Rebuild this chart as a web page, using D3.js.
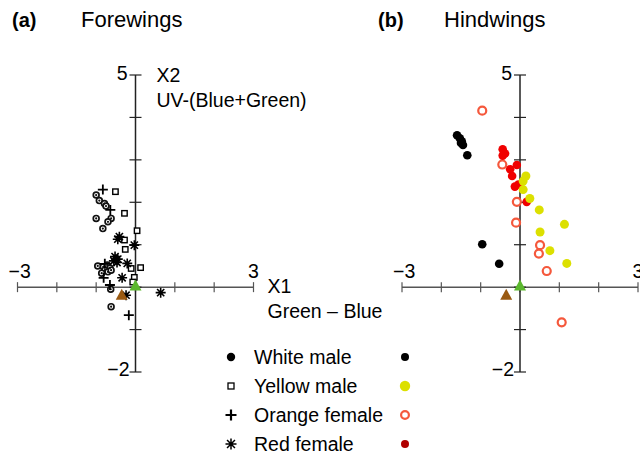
<!DOCTYPE html>
<html>
<head>
<meta charset="utf-8">
<script src="https://cdn.jsdelivr.net/npm/d3@7"></script>
<style>
  body { margin: 0; background: #fff; }
  text { font-family: "Liberation Sans", Arial, sans-serif; }
</style>
</head>
<body>
<svg width="640" height="456"></svg>
<script>
const width = 640;
const height = 456;

const xTicks = [-3, -2, -1, 0, 1, 2, 3];
const yTicks = [-2, -1, 0, 1, 2, 3, 4, 5];

// (a) forewings, [X1, X2]
const foreWhite = [
  [-1.00, 2.17], [-0.92, 2.04], [-0.79, 1.97], [-0.75, 1.91], [-1.00, 1.62],
  [-0.62, 1.62], [-0.70, 1.54], [-0.83, 1.38], [-0.96, 0.50], [-0.82, 0.48],
  [-0.72, 0.52], [-0.65, 0.45], [-0.78, 0.40], [-0.70, 0.36], [-0.86, 0.33],
  [-0.62, 0.40], [-0.63, -0.05], [-0.62, -0.46]
];
const foreYellow = [
  [-0.51, 2.25], [-0.28, 1.74], [0.04, 1.33], [-0.28, 1.11], [-0.26, 0.89],
  [-0.11, 0.44], [0.13, 0.46], [-0.03, 0.23], [-0.07, 0.12]
];
const foreOrange = [
  [-0.83, 2.30], [-0.64, 1.82], [-0.78, 0.55], [-0.81, 0.22], [-0.65, 0.05],
  [-0.17, -0.66]
];
const foreRed = [
  [-0.41, 1.19], [-0.45, 1.13], [-0.03, 0.99], [-0.52, 0.72], [-0.45, 0.66],
  [-0.55, 0.62], [-0.47, 0.58], [-0.21, 0.56], [-0.34, 0.22], [-0.24, -0.19],
  [0.64, -0.13]
];

// (b) hindwings, [X1, X2]
const hindWhite = [
  [-1.60, 3.58], [-1.53, 3.51], [-1.48, 3.44], [-1.45, 3.35], [-1.50, 3.40],
  [-1.34, 3.11], [-0.96, 1.01], [-0.53, 0.55]
];
const hindYellow = [
  [0.15, 2.62], [0.08, 2.50], [0.08, 2.30], [0.25, 2.09], [0.49, 1.82],
  [1.13, 1.48], [0.51, 1.30], [0.76, 0.86], [1.19, 0.56]
];
const hindOrange = [
  [-0.96, 4.16], [-0.45, 2.89], [-0.08, 2.01], [-0.10, 1.52], [0.51, 0.99],
  [0.48, 0.79], [0.68, 0.38], [1.06, -0.83]
];
const hindRed = [
  [-0.44, 3.25], [-0.38, 3.15], [-0.44, 3.10], [-0.25, 2.78], [-0.08, 2.88],
  [-0.20, 2.62], [-0.13, 2.37], [-0.04, 2.42], [0.17, 2.01]
];

// reference points (triangles)
const greenRef = [0.0, 0.05];
const brownRef = [-0.35, -0.17];

const legendLabels = ["White male", "Yellow male", "Orange female", "Red female"];

const svg = d3.select("svg");

const y = d3.scaleLinear().domain([-2, 5]).range([372, 75]);

function starPath(r) {
  const d = r * 0.72;
  return `M${-r},0H${r}M0,${-r}V${r}M${-d},${-d}L${d},${d}M${-d},${d}L${d},${-d}`;
}
const plusPath = r => `M${-r},0H${r}M0,${-r}V${r}`;
const triPath = (w, h) => `M0,${-h / 2}L${w / 2},${h / 2}L${-w / 2},${h / 2}Z`;

function drawAxes(g, x, showTitles) {
  const x0 = x(0), y0 = y(0);
  // x axis
  g.append("line")
    .attr("x1", x(-3)).attr("x2", x(3))
    .attr("y1", y0).attr("y2", y0)
    .attr("stroke", "#555").attr("stroke-width", 1.5);
  g.selectAll(".xt").data(xTicks).join("line")
    .attr("x1", d => x(d)).attr("x2", d => x(d))
    .attr("y1", y0 - 5).attr("y2", y0 + 5)
    .attr("stroke", "#555").attr("stroke-width", 1.2);
  // y axis
  g.append("line")
    .attr("x1", x0).attr("x2", x0)
    .attr("y1", y(5)).attr("y2", y(-2))
    .attr("stroke", "#222").attr("stroke-width", 1.5);
  g.selectAll(".yt").data(yTicks).join("line")
    .attr("x1", x0 - 6).attr("x2", x0 + 6)
    .attr("y1", d => y(d)).attr("y2", d => y(d))
    .attr("stroke", "#222").attr("stroke-width", 1.2);

  const fs = "19.5px";
  g.append("text").attr("x", x(-3) - 9).attr("y", y0 - 9).attr("font-size", fs).text("\u22123");
  g.append("text").attr("x", x(3)).attr("y", y0 - 9).attr("text-anchor", "middle").attr("font-size", fs).text("3");
  g.append("text").attr("x", x0 - 8).attr("y", y(5) + 5).attr("text-anchor", "end").attr("font-size", fs).text("5");
  g.append("text").attr("x", x0 - 6).attr("y", y(-2) + 4).attr("text-anchor", "end").attr("font-size", fs).text("\u22122");
  if (showTitles) {
    g.append("text").attr("x", x0 + 21).attr("y", y(5) + 7).attr("font-size", fs).text("X2");
    g.append("text").attr("x", x0 + 21).attr("y", y(5) + 32).attr("font-size", fs).text("UV-(Blue+Green)");
    g.append("text").attr("x", x(3) + 14).attr("y", y0 + 6).attr("font-size", fs).text("X1");
    g.append("text").attr("x", x(3) + 14).attr("y", y0 + 31).attr("font-size", fs).text("Green \u2013 Blue");
  }
}

function drawRefs(g, x) {
  g.append("path").attr("d", triPath(12, 11))
    .attr("transform", `translate(${x(brownRef[0])},${y(brownRef[1])})`)
    .attr("fill", "#9a5a12");
  g.append("path").attr("d", triPath(12, 11))
    .attr("transform", `translate(${x(greenRef[0])},${y(greenRef[1])})`)
    .attr("fill", "#5cb82e");
}

// ---- panel (a)
const xa = d3.scaleLinear().domain([-3, 3]).range([17.5, 253.5]);
const ga = svg.append("g");
drawAxes(ga, xa, true);

const pa = ga.append("g");
pa.selectAll(".wm").data(foreWhite).join("circle")
  .attr("cx", d => xa(d[0])).attr("cy", d => y(d[1])).attr("r", 2.9)
  .attr("fill", "#fff").attr("stroke", "#111").attr("stroke-width", 1.7);
pa.selectAll(".wmc").data(foreWhite).join("circle")
  .attr("cx", d => xa(d[0])).attr("cy", d => y(d[1])).attr("r", 1.1)
  .attr("fill", "#111");
pa.selectAll(".ym").data(foreYellow).join("rect")
  .attr("x", d => xa(d[0]) - 2.7).attr("y", d => y(d[1]) - 2.7)
  .attr("width", 5.4).attr("height", 5.4)
  .attr("fill", "#fff").attr("stroke", "#000").attr("stroke-width", 1.4);
pa.selectAll(".of").data(foreOrange).join("path")
  .attr("d", plusPath(5))
  .attr("transform", d => `translate(${xa(d[0])},${y(d[1])})`)
  .attr("stroke", "#000").attr("stroke-width", 1.8).attr("fill", "none");
pa.selectAll(".rf").data(foreRed).join("path")
  .attr("d", starPath(5))
  .attr("transform", d => `translate(${xa(d[0])},${y(d[1])})`)
  .attr("stroke", "#000").attr("stroke-width", 1.6).attr("fill", "none");
drawRefs(ga, xa);

ga.append("text").attr("x", 12).attr("y", 27).attr("font-size", "20px").attr("font-weight", "bold").text("(a)");
ga.append("text").attr("x", 81).attr("y", 27).attr("font-size", "22px").text("Forewings");

// ---- panel (b)
const xb = d3.scaleLinear().domain([-3, 3]).range([402, 638]);
const gb = svg.append("g");
drawAxes(gb, xb, false);

const pb = gb.append("g");
pb.selectAll(".wm").data(hindWhite).join("circle")
  .attr("cx", d => xb(d[0])).attr("cy", d => y(d[1])).attr("r", 4.3)
  .attr("fill", "#000");
pb.selectAll(".of").data(hindOrange).join("circle")
  .attr("cx", d => xb(d[0])).attr("cy", d => y(d[1])).attr("r", 4)
  .attr("fill", "#fff").attr("stroke", "#f5583c").attr("stroke-width", 2.2);
pb.selectAll(".rf").data(hindRed).join("circle")
  .attr("cx", d => xb(d[0])).attr("cy", d => y(d[1])).attr("r", 4.3)
  .attr("fill", "#f00000");
pb.selectAll(".ym").data(hindYellow).join("circle")
  .attr("cx", d => xb(d[0])).attr("cy", d => y(d[1])).attr("r", 4.5)
  .attr("fill", "#dce000");
drawRefs(gb, xb);

gb.append("text").attr("x", 378).attr("y", 27).attr("font-size", "20px").attr("font-weight", "bold").text("(b)");
gb.append("text").attr("x", 444).attr("y", 27).attr("font-size", "22px").text("Hindwings");

// ---- legend
const ly = d3.scalePoint().domain(legendLabels).range([357, 444]);
const lg = svg.append("g");
lg.selectAll("text").data(legendLabels).join("text")
  .attr("x", 254).attr("y", d => ly(d) + 7)
  .attr("font-size", "19.5px").text(d => d);

lg.append("circle").attr("cx", 231).attr("cy", ly(legendLabels[0])).attr("r", 4.2).attr("fill", "#000");
lg.append("rect").attr("x", 228).attr("y", ly(legendLabels[1]) - 3).attr("width", 6).attr("height", 6)
  .attr("fill", "#fff").attr("stroke", "#000").attr("stroke-width", 1.3);
lg.append("path").attr("d", plusPath(5.5)).attr("transform", `translate(231,${ly(legendLabels[2])})`)
  .attr("stroke", "#000").attr("stroke-width", 2.2);
lg.append("path").attr("d", starPath(5.5)).attr("transform", `translate(231,${ly(legendLabels[3])})`)
  .attr("stroke", "#000").attr("stroke-width", 1.5);

lg.append("circle").attr("cx", 405).attr("cy", ly(legendLabels[0])).attr("r", 4).attr("fill", "#000");
lg.append("circle").attr("cx", 405).attr("cy", ly(legendLabels[1])).attr("r", 5.2).attr("fill", "#dce000");
lg.append("circle").attr("cx", 405).attr("cy", ly(legendLabels[2])).attr("r", 3.9)
  .attr("fill", "#fff").attr("stroke", "#f5583c").attr("stroke-width", 2.2);
lg.append("circle").attr("cx", 405).attr("cy", ly(legendLabels[3])).attr("r", 4).attr("fill", "#b00000");
</script>
</body>
</html>
